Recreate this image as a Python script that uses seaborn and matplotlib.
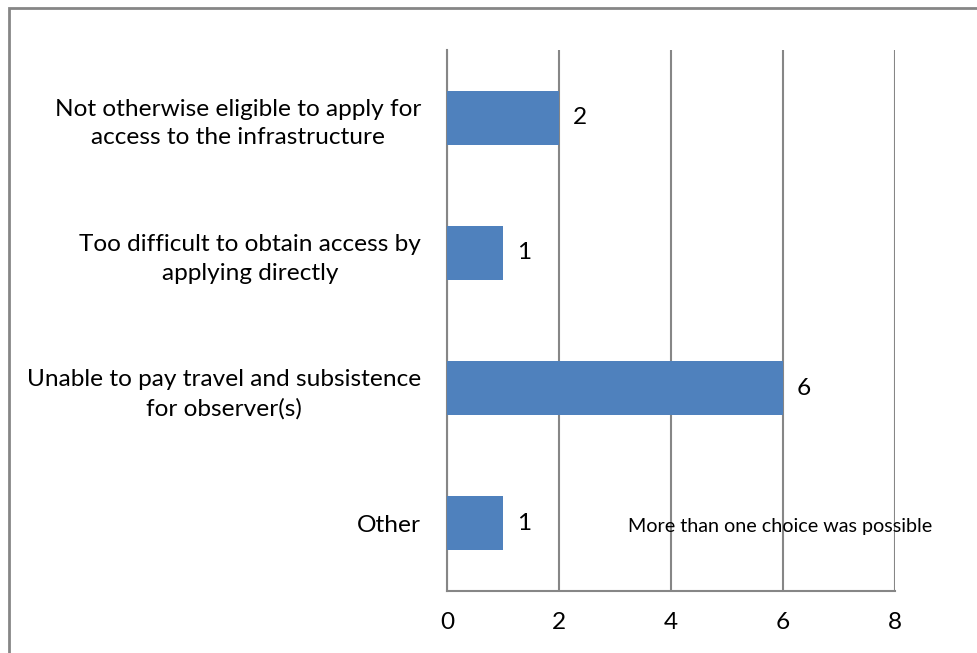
import matplotlib
matplotlib.use("Agg")
import matplotlib.pyplot as plt
from matplotlib.patches import Rectangle
import seaborn as sns
import pandas as pd

categories = [
    "Not otherwise eligible to apply for\naccess to the infrastructure",
    "Too difficult to obtain access by\napplying directly",
    "Unable to pay travel and subsistence\nfor observer(s)",
    "Other",
]
counts = [2, 1, 6, 1]
x_ticks = [0, 2, 4, 6, 8]
note = "More than one choice was possible"

df = pd.DataFrame({"reason": categories, "count": counts})

sns.set_style("white")
plt.rcParams["font.family"] = ["Lato", "DejaVu Sans"]
plt.rcParams["text.color"] = "black"
plt.rcParams["xtick.labelcolor"] = "black"
plt.rcParams["ytick.labelcolor"] = "black"

W, H = 977, 653
fig = plt.figure(figsize=(W / 100, H / 100), dpi=100)
ax = fig.add_axes([447 / W, 1 - 591 / H, (895 - 447) / W, (591 - 50) / H])

grey = "#868686"
bar_color = "#4F81BD"

sns.barplot(data=df, x="count", y="reason", orient="h", color=bar_color,
            width=0.4, saturation=1, linewidth=0, ax=ax, zorder=3)

ax.set_xlim(0, 8)
ax.set_ylim(len(categories) - 0.5, -0.5)
ax.set_xticks(x_ticks)
ax.set_xticklabels([str(t) for t in x_ticks])
ax.grid(axis="x", color=grey, linewidth=1.5, zorder=0)
ax.set_axisbelow(True)
ax.set_xlabel("")
ax.set_ylabel("")

# y axis: tick marks on category boundaries, labels at centres without marks
ax.set_yticks(range(len(categories)))
ax.set_yticklabels(categories, multialignment="center", fontsize=17.6,
                   linespacing=1.45)
ax.set_yticks([i - 0.5 for i in range(len(categories) + 1)], minor=True)
ax.tick_params(axis="y", which="major", length=0, pad=18.5)
ax.tick_params(axis="y", which="minor", length=8, width=1.5, color=grey)
ax.tick_params(axis="x", which="major", length=8, width=1.5, color=grey,
               labelsize=17.6, pad=7)

for side in ["top", "right"]:
    ax.spines[side].set_visible(False)
for side in ["left", "bottom"]:
    ax.spines[side].set_color(grey)
    ax.spines[side].set_linewidth(1.5)

# value labels
for i, v in enumerate(counts):
    ax.text(v + 0.25, i, str(v), va="center", ha="left", fontsize=17.6)

ax.text(3.23, 3.02, note, va="center", ha="left", fontsize=14.2)

# chart frame
fig.patches.append(Rectangle((8.5 / W, -0.1), 1.2, 1 - 7.5 / H + 0.1,
                             transform=fig.transFigure, fill=False,
                             edgecolor=grey, linewidth=2))

fig.savefig("out.png", dpi=100)
